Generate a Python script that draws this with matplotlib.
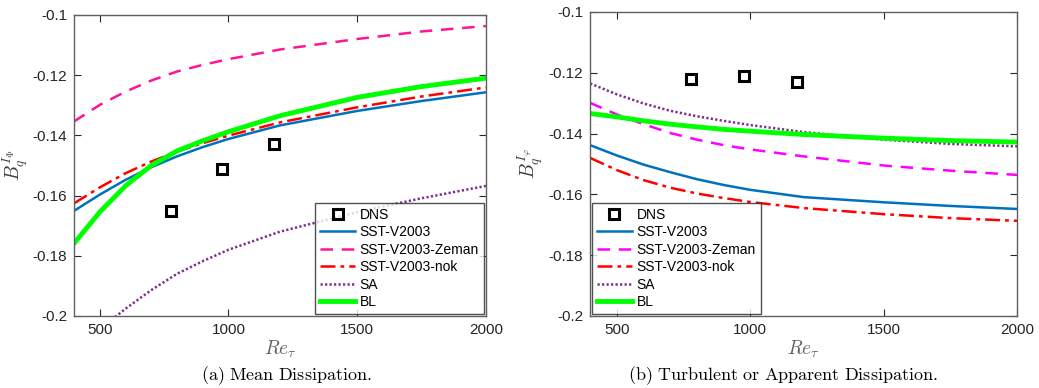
import matplotlib
matplotlib.use("Agg")
import matplotlib.pyplot as plt

plt.rcParams['font.family'] = ['Liberation Sans', 'DejaVu Sans']
plt.rcParams['mathtext.fontset'] = 'cm'

# ---- data ----
re_tau = [400, 500, 600, 700, 800, 900, 1000, 1200, 1500, 1750, 2000]
dns_re = [778, 975, 1175]

# (a) Mean dissipation
dns_a = [-0.165, -0.1511, -0.143]
sst_a = [-0.1651, -0.1597, -0.1548, -0.1506, -0.1470, -0.1439, -0.1412, -0.1367, -0.1319, -0.1286, -0.1257]
zeman_a = [-0.1354, -0.1299, -0.1255, -0.1218, -0.1188, -0.1166, -0.1147, -0.1115, -0.1080, -0.1055, -0.1037]
nok_a = [-0.1626, -0.1573, -0.1526, -0.1487, -0.1454, -0.1426, -0.1401, -0.1357, -0.1307, -0.1271, -0.1241]
sa_a = [-0.2120, -0.2045, -0.1976, -0.1914, -0.1860, -0.1818, -0.1780, -0.1720, -0.1655, -0.1609, -0.1568]
bl_a = [-0.1759, -0.1655, -0.1568, -0.1500, -0.1452, -0.1418, -0.1388, -0.1335, -0.1274, -0.1238, -0.1210]

# (b) Turbulent or apparent dissipation
dns_b = [-0.1220, -0.1210, -0.1229]
sst_b = [-0.1438, -0.1472, -0.1502, -0.1527, -0.1550, -0.1569, -0.1585, -0.1609, -0.1626, -0.1638, -0.1648]
zeman_b = [-0.1299, -0.1337, -0.1369, -0.1398, -0.1420, -0.1438, -0.1452, -0.1475, -0.1505, -0.1522, -0.1536]
nok_b = [-0.1480, -0.1520, -0.1553, -0.1578, -0.1597, -0.1612, -0.1625, -0.1645, -0.1665, -0.1678, -0.1687]
sa_b = [-0.1235, -0.1271, -0.1301, -0.1325, -0.1343, -0.1358, -0.1372, -0.1395, -0.1420, -0.1434, -0.1442]
bl_b = [-0.1334, -0.1345, -0.1358, -0.1369, -0.1378, -0.1386, -0.1392, -0.1403, -0.1415, -0.1423, -0.1428]

labels = ['DNS', 'SST-V2003', 'SST-V2003-Zeman', 'SST-V2003-nok', 'SA', 'BL']
xticks = [500, 1000, 1500, 2000]
yticks = [-0.2, -0.18, -0.16, -0.14, -0.12, -0.1]
ytick_labels = ['-0.2', '-0.18', '-0.16', '-0.14', '-0.12', '-0.1']

fig = plt.figure(figsize=(10.39, 3.88), dpi=100)
ax1 = fig.add_axes([0.0712, 0.1856, 0.3965, 0.776])
ax2 = fig.add_axes([0.568, 0.1856, 0.411, 0.7835])

def draw(ax, dns, sst, zeman, nok, sa, bl, zeman_color, ylabel, legloc):
    ax.plot(dns_re, dns, linestyle='none', marker='s', markersize=7, markerfacecolor='none',
            markeredgecolor='black', markeredgewidth=2.2, label=labels[0], zorder=5)
    ax.plot(re_tau, sst, color='#0072BD', lw=1.8, label=labels[1])
    ax.plot(re_tau, zeman, color=zeman_color, lw=1.8, ls=(0, (5, 3.5)), label=labels[2])
    ax.plot(re_tau, nok, color='#FF0000', lw=1.8, ls=(0, (6, 2, 1.5, 2)), label=labels[3])
    ax.plot(re_tau, sa, color='#7E2F8E', lw=1.8, ls=(0, (0.9, 0.9)), label=labels[4])
    ax.plot(re_tau, bl, color='#00FF00', lw=3.5, label=labels[5])
    ax.set_xlim(400, 2000)
    ax.set_ylim(-0.2, -0.1)
    ax.set_xticks(xticks)
    ax.set_yticks(yticks)
    ax.set_yticklabels(ytick_labels)
    ax.tick_params(direction='in', top=True, right=True, labelsize=11, length=5,
                   color='#262626', labelcolor='#262626', pad=5)
    for s in ax.spines.values():
        s.set_color('#606060')
        s.set_linewidth(1.0)
    ax.set_xlabel(r'$Re_{\tau}$', fontsize=14, color='#606060', labelpad=1)
    ax.set_ylabel(ylabel, fontsize=14, color='#404040', labelpad=2)
    leg = ax.legend(loc=legloc, fontsize=10, frameon=True, fancybox=False,
                    edgecolor='#262626', handlelength=2.5, handletextpad=0.35,
                    labelspacing=0.25, borderpad=0.35, borderaxespad=0.15)
    leg.get_frame().set_linewidth(1.0)

draw(ax1, dns_a, sst_a, zeman_a, nok_a, sa_a, bl_a, '#FF1493', r'$B_q^{I_\Phi}$', 'lower right')
draw(ax2, dns_b, sst_b, zeman_b, nok_b, sa_b, bl_b, '#FF00FF', r'$B_q^{I_\varphi}$', 'lower left')

fig.text(0.0712 + 0.3965 / 2 + 0.006, 0.032, r'$\mathrm{(a)\ Mean\ Dissipation.}$', ha='center', va='center', fontsize=13)
fig.text(0.568 + 0.411 / 2 - 0.02, 0.032, r'$\mathrm{(b)\ Turbulent\ or\ Apparent\ Dissipation.}$', ha='center', va='center', fontsize=13)

fig.savefig('out.png', dpi=100)
